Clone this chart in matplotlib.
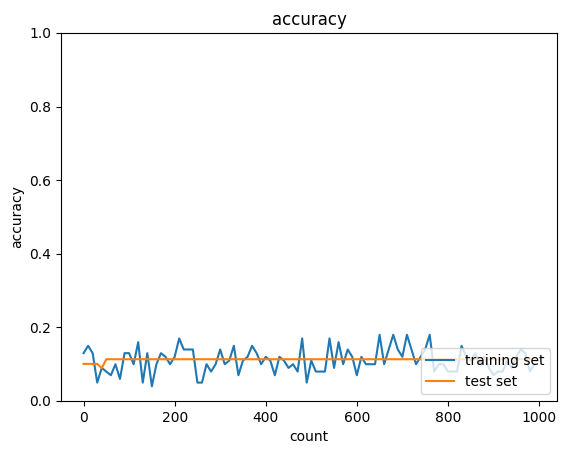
import matplotlib
matplotlib.use("Agg")
import matplotlib.pyplot as plt
import numpy as np

steps = list(range(0, 1000, 10))
train_acc = [
    0.13, 0.15, 0.13, 0.05, 0.09, 0.08, 0.07, 0.10, 0.06, 0.13,
    0.13, 0.10, 0.16, 0.05, 0.13, 0.04, 0.10, 0.13, 0.12, 0.10,
    0.12, 0.17, 0.14, 0.14, 0.14, 0.05, 0.05, 0.10, 0.08, 0.10,
    0.14, 0.10, 0.11, 0.15, 0.07, 0.11, 0.12, 0.15, 0.13, 0.10,
    0.12, 0.11, 0.07, 0.12, 0.11, 0.09, 0.10, 0.08, 0.17, 0.05,
    0.11, 0.08, 0.08, 0.08, 0.17, 0.09, 0.16, 0.10, 0.14, 0.12,
    0.07, 0.12, 0.10, 0.10, 0.10, 0.18, 0.10, 0.14, 0.18, 0.14,
    0.12, 0.18, 0.14, 0.10, 0.12, 0.14, 0.18, 0.08, 0.10, 0.10,
    0.08, 0.08, 0.08, 0.15, 0.12, 0.11, 0.13, 0.10, 0.12, 0.09,
    0.07, 0.08, 0.08, 0.11, 0.09, 0.12, 0.14, 0.13, 0.08, 0.10,
]
test_acc = [0.1009, 0.1009, 0.1009, 0.1009, 0.0892] + [0.1135] * 95

fig = plt.figure(figsize=(5.67, 4.55), dpi=100)
ax = fig.add_axes([61 / 567, 54 / 455, 496 / 567, 368 / 455])
ax.plot(steps, train_acc, label="training set")
ax.plot(steps, test_acc, label="test set")
ax.set_ylim(0, 1.0)
ax.set_title("accuracy")
ax.set_xlabel("count")
ax.set_ylabel("accuracy")
ax.legend(loc="lower right")
fig.savefig("out.png", dpi=100)
